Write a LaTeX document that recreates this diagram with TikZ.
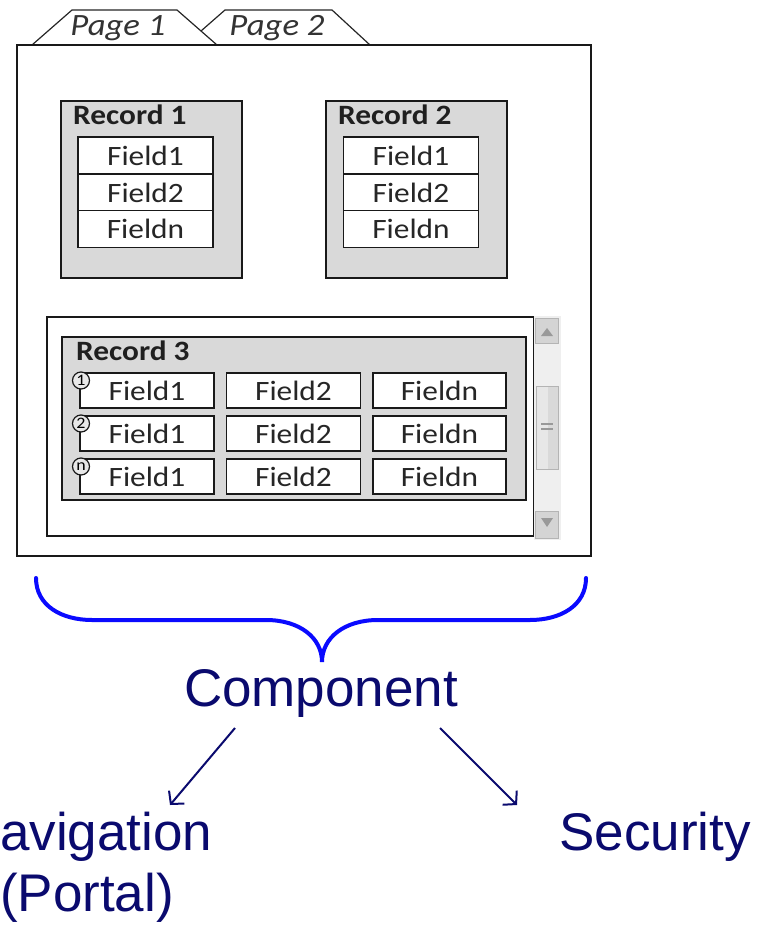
\documentclass[tikz,border=0pt]{standalone}
\usepackage{fontspec}
\setmainfont{Liberation Sans}
\newfontfamily\wf[FakeStretch=1.12]{Carlito}
\newfontfamily\arl{Liberation Sans}
\usetikzlibrary{arrows.meta}
\definecolor{recgray}{HTML}{D9D9D9}
\definecolor{navy}{HTML}{0A0A6E}
\definecolor{braceblue}{HTML}{0A0AFF}
\definecolor{sbbg}{HTML}{EFEFEF}
\definecolor{sbbtn}{HTML}{D4D4D4}
\definecolor{sbedge}{HTML}{B4B4B4}
\tikzset{
  frame/.style={draw=black!90, line width=1.4pt},
  recbox/.style={draw=black!90, fill=recgray, line width=1.4pt},
  fieldbox/.style={draw=black!90, fill=white, line width=1.4pt, inner sep=0pt,
    font=\wf\fontsize{28}{30}\selectfont, text=black!85},
  reclabel/.style={anchor=base west, inner sep=0pt, font=\wf\bfseries\fontsize{28}{30}\selectfont, text=black!88},
  tablabel/.style={anchor=base, inner sep=0pt, font=\wf\itshape\fontsize{31}{32}\selectfont, text=black!80},
  marker/.style={circle, draw=black!90, fill=recgray!60, line width=1.2pt, minimum size=17pt,
    inner sep=0pt, font=\wf\fontsize{16}{16}\selectfont},
  bigtxt/.style={inner sep=0pt, text=navy, font=\arl\fontsize{53}{61}\selectfont},
  conn/.style={draw=navy, line width=2pt, -{Straight Barb[length=9pt,width=20pt,line width=2pt]}},
  brace/.style={draw=braceblue, line width=4pt, line cap=round},
}
\begin{document}
\begin{tikzpicture}[x=1pt,y=-1pt]
\useasboundingbox (0,0) rectangle (764,925);
% tabs
\draw[fill=white, line width=1.2pt, draw=black!85] (185,45) -- (225,10) -- (332,10) -- (370,45);
\draw[fill=white, line width=1.2pt, draw=black!85] (32,45) -- (72,10) -- (177,10) -- (217,45);
\node[tablabel] (tab1) at (118,36) {Page 1};
\node[tablabel] (tab2) at (277,36) {Page 2};
% main frame
\draw[frame] (17,45) rectangle (591,556);
% Record 1
\draw[recbox] (61,101) rectangle (242,278);
\node[reclabel] (r1) at (73,125) {Record 1};
\node[fieldbox, minimum width=135pt, minimum height=37pt] (r1a) at (145.5,155.5) {Field1};
\node[fieldbox, minimum width=135pt, minimum height=36pt] (r1b) at (145.5,192.5) {Field2};
\node[fieldbox, minimum width=135pt, minimum height=37pt] (r1c) at (145.5,229) {Fieldn};
% Record 2
\draw[recbox] (326,101) rectangle (507,278);
\node[reclabel] (r2) at (338,125) {Record 2};
\node[fieldbox, minimum width=135pt, minimum height=37pt] (r2a) at (411,155.5) {Field1};
\node[fieldbox, minimum width=135pt, minimum height=36pt] (r2b) at (411,192.5) {Field2};
\node[fieldbox, minimum width=135pt, minimum height=37pt] (r2c) at (411,229) {Fieldn};
% Record 3 container
\draw[frame] (47,317) rectangle (534,536);
% scrollbar
\fill[sbbg] (534,316) rectangle (561,540);
\draw[sbedge, fill=sbbtn, line width=1pt] (535.5,318) rectangle (558.5,343);
\fill[black!40] (541,336) -- (553,336) -- (547,328) -- cycle;
\draw[sbedge, fill=sbbg!70!sbbtn, line width=1pt] (536,386) rectangle (558,469);
\fill[black!15] (548,387) rectangle (557.5,468.5);
\draw[black!40, line width=1.5pt] (541,424) -- (553,424) (541,429) -- (553,429);
\draw[sbedge, fill=sbbtn, line width=1pt] (535.5,511) rectangle (558.5,538);
\fill[black!40] (541,518) -- (553,518) -- (547,527) -- cycle;
% Record 3
\draw[recbox] (62,337) rectangle (526,500);
\node[reclabel] (r3) at (76,360) {Record 3};
\foreach \r/\y/\m in {1/390.5/1, 2/433.5/2, 3/476.5/n}{
  \node[fieldbox, minimum width=134pt, minimum height=35pt] (r3f\r a) at (147,\y) {Field1};
  \node[fieldbox, minimum width=134pt, minimum height=35pt] (r3f\r b) at (293.5,\y) {Field2};
  \node[fieldbox, minimum width=133pt, minimum height=35pt] (r3f\r c) at (439.5,\y) {Fieldn};
  \node[marker] (m\r) at (81,\y-10) {\m};
}
% brace
\draw[brace] (36,578) .. controls (36,606) and (62,620) .. (92,620) -- (266,620)
  .. controls (300,620) and (322,638) .. (322,662)
  .. controls (322,638) and (344,620) .. (378,620) -- (530,620)
  .. controls (560,620) and (586,606) .. (586,578);
% texts
\node[bigtxt, anchor=base] (comp) at (321,706) {Component};
\node[bigtxt, anchor=base, align=center] (nav) at (87,911) {Navigation\\(Portal)};
\node[bigtxt, anchor=base] (sec) at (655,850) {Security};
% connectors
\coordinate (c1) at (235,728);
\coordinate (n1) at (170,805);
\coordinate (c2) at (440,728);
\coordinate (s1) at (517,805);
\draw[conn] (c1) -- (n1);
\draw[conn] (c2) -- (s1);
\end{tikzpicture}
\end{document}
